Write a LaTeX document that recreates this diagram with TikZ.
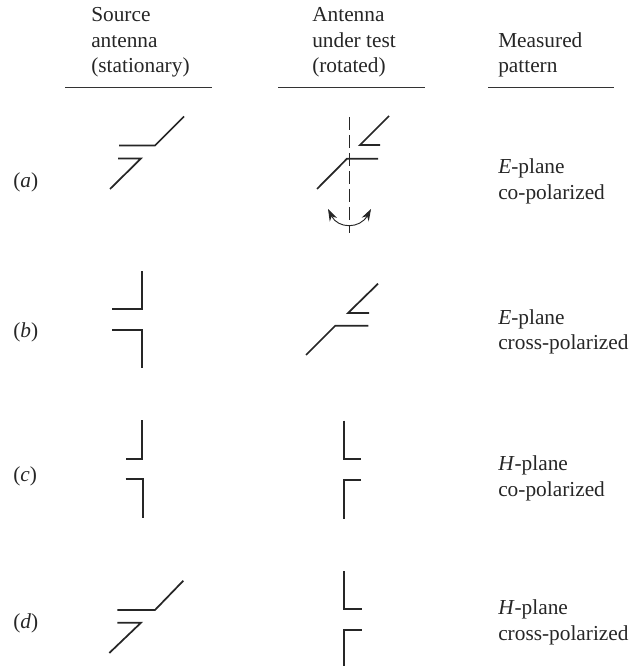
\documentclass[tikz,border=0pt]{standalone}
\usepackage{fontspec}
\setmainfont{Liberation Serif}
\usepackage{tikz}
\usetikzlibrary{arrows.meta}

\tikzset{
  lbl/.style={anchor=base west, inner sep=0pt, font=\fontsize{16}{19.5}\selectfont, black!85},
  ant/.style={line width=1.3pt, black!85, line join=miter},
  headrule/.style={line width=0.9pt, black!80},
  axisline/.style={line width=0.7pt, black!85}
}

\begin{document}
\begin{tikzpicture}[x=0.75pt, y=-0.75pt]
\useasboundingbox (0,0) rectangle (629,666);

% Column heads
\node[lbl] (srcA) at (91,21.7) {Source};
\node[lbl] (srcB) at (91,47.7) {antenna};
\node[lbl] (srcC) at (91,73) {(stationary)};
\node[lbl] (autA) at (312,21.7) {Antenna};
\node[lbl] (autB) at (312,47.7) {under test};
\node[lbl] (autC) at (312,73) {(rotated)};
\node[lbl] (patA) at (498,48) {Measured};
\node[lbl] (patB) at (498,73) {pattern};

\draw[headrule] (65,87.5) -- (212,87.5);
\draw[headrule] (278,87.5) -- (425,87.5);
\draw[headrule] (488,87.5) -- (614,87.5);

% Row a
\node[lbl] (rowa) at (13,187.5) {(\textit{a})};
\node[lbl] (resa) at (498,174) {\textit{E}-plane};
\node[lbl] (resaB) at (498,200) {co-polarized};
\draw[ant] (119,145.5) -- (155,145.5) -- (184,116.5);
\draw[ant] (118,158.5) -- (141,158.5) -- (110,189);
\draw[ant] (389,116) -- (360,145) -- (380,145);
\draw[ant] (317,189) -- (347,158.7) -- (378,158.7);
\draw[axisline, dash pattern=on 9.75pt off 3.75pt] (349,117) -- (349,233);
\draw[axisline, <->, >={Stealth[length=9pt, width=6pt]}] (328,209) .. controls (338,229) and (360,229) .. (371,209);

% Row b
\node[lbl] (rowb) at (13,337) {(\textit{b})};
\node[lbl] (resb) at (498,324) {\textit{E}-plane};
\node[lbl] (resbB) at (498,349.5) {cross-polarized};
\draw[ant] (112,309.3) -- (142.3,309.3) -- (142.3,270.7);
\draw[ant] (112,330) -- (142.3,330) -- (142.3,368);
\draw[ant] (378,283.7) -- (348,313) -- (369,313);
\draw[ant] (306,355) -- (335.3,325.7) -- (368.3,325.7);

% Row c
\node[lbl] (rowc) at (13,481.5) {(\textit{c})};
\node[lbl] (resc) at (498,470) {\textit{H}-plane};
\node[lbl] (rescB) at (498,496) {co-polarized};
\draw[ant] (142.3,420) -- (142.3,458.7) -- (125.7,458.7);
\draw[ant] (125.7,479.3) -- (142.7,479.3) -- (142.7,518);
\draw[ant] (344.3,420.7) -- (344.3,459.3) -- (361,459.3);
\draw[ant] (361,480) -- (344.3,480) -- (344.3,519.3);

% Row d
\node[lbl] (rowd) at (13,628.5) {(\textit{d})};
\node[lbl] (resd) at (498,614) {\textit{H}-plane};
\node[lbl] (resdB) at (498,640) {cross-polarized};
\draw[ant] (183.3,580.7) -- (155,610) -- (117.3,610);
\draw[ant] (117.3,622.7) -- (141,622.7) -- (109.3,653);
\draw[ant] (344.3,571) -- (344.3,609) -- (361.7,609);
\draw[ant] (361.7,630) -- (344.3,630) -- (344.3,666);
\end{tikzpicture}
\end{document}
